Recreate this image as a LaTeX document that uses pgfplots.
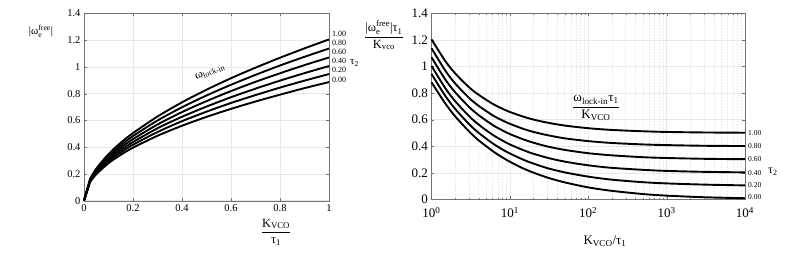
\documentclass[border=0pt]{standalone}
\usepackage{fontspec}
\setmainfont{Liberation Serif}
\usepackage{amsmath}
\usepackage{pgfplots}
\pgfplotsset{compat=1.18}
\pgfplotsset{
  base/.style={scale only axis, axis line style={black!55}, tick style={black!55},
    major tick length=3pt, minor tick length=1.8pt, tick align=inside,
    grid style={black!9, line width=0.5pt}, xmajorgrids, ymajorgrids,
    /pgf/number format/assume math mode=true, clip=false,
    ytick={0,0.2,0.4,0.6,0.8,1,1.2,1.4}, ymin=0, ymax=1.4},
  crv/.style={black, line width=1.9pt, smooth, line join=round},
  seg/.style={black, line width=1.9pt, line join=round},
}
\begin{document}
\begin{tikzpicture}[x=1pt,y=1pt]
\useasboundingbox (0,0) rectangle (789,257);
% ---------------- left axis
\begin{axis}[base, at={(84pt,56.3pt)}, anchor=south west, width=245pt, height=187.4pt,
  xmin=0, xmax=1, xtick={0,0.2,0.4,0.6,0.8,1},
  tick label style={font=\fontsize{10.5}{12}\selectfont}]
\addplot[seg] coordinates {(0,0) (0.025,0.164)};
\addplot[seg] coordinates {(0,0) (0.025,0.160)};
\addplot[seg] coordinates {(0,0) (0.025,0.155)};
\addplot[seg] coordinates {(0,0) (0.025,0.150)};
\addplot[seg] coordinates {(0,0) (0.025,0.145)};
\addplot[seg] coordinates {(0,0) (0.025,0.140)};
% tau2 = 1.00
\addplot[crv] coordinates {(0.025,0.164) (0.05,0.239) (0.1,0.348) (0.15,0.433) (0.2,0.505) (0.3,0.629) (0.4,0.735) (0.5,0.829) (0.6,0.915) (0.7,0.994) (0.8,1.068) (0.9,1.138) (1,1.205)};
% tau2 = 0.80
\addplot[crv] coordinates {(0.025,0.160) (0.05,0.231) (0.1,0.334) (0.15,0.414) (0.2,0.483) (0.3,0.599) (0.4,0.698) (0.5,0.786) (0.6,0.866) (0.7,0.940) (0.8,1.010) (0.9,1.075) (1,1.137)};
% tau2 = 0.60
\addplot[crv] coordinates {(0.025,0.155) (0.05,0.223) (0.1,0.320) (0.15,0.396) (0.2,0.460) (0.3,0.569) (0.4,0.662) (0.5,0.744) (0.6,0.819) (0.7,0.888) (0.8,0.952) (0.9,1.013) (1,1.070)};
% tau2 = 0.40
\addplot[crv] coordinates {(0.025,0.150) (0.05,0.214) (0.1,0.307) (0.15,0.378) (0.2,0.438) (0.3,0.541) (0.4,0.627) (0.5,0.703) (0.6,0.773) (0.7,0.837) (0.8,0.897) (0.9,0.953) (1,1.006)};
% tau2 = 0.20
\addplot[crv] coordinates {(0.025,0.145) (0.05,0.207) (0.1,0.294) (0.15,0.361) (0.2,0.418) (0.3,0.513) (0.4,0.594) (0.5,0.665) (0.6,0.730) (0.7,0.789) (0.8,0.845) (0.9,0.897) (1,0.946)};
% tau2 = 0.00
\addplot[crv] coordinates {(0.025,0.140) (0.05,0.198) (0.1,0.280) (0.15,0.343) (0.2,0.396) (0.3,0.485) (0.4,0.560) (0.5,0.626) (0.6,0.686) (0.7,0.741) (0.8,0.792) (0.9,0.841) (1,0.886)};
\end{axis}
% ---------------- right axis
\begin{axis}[base, at={(431.5pt,57.5pt)}, anchor=south west, width=313.5pt, height=186.2pt,
  xmode=log, xmin=1, xmax=10000, xminorgrids, minor grid style={black!7, densely dotted, line width=0.4pt},
  xtick={1,10,100,1000,10000},
  xticklabels={10\textsuperscript{0},10\textsuperscript{1},10\textsuperscript{2},10\textsuperscript{3},10\textsuperscript{4}},
  xticklabel style={yshift=-4pt},
  tick label style={font=\fontsize{13}{15}\selectfont}]
\addplot[crv] coordinates {(1,1.204) (1.5,1.041) (2,0.949) (3,0.845) (4,0.787) (6,0.720) (8,0.683) (10,0.658) (15,0.622) (20,0.601) (30,0.578) (50,0.556) (100,0.536) (200,0.523) (500,0.513) (1000,0.508) (3000,0.504) (10000,0.502)};
\addplot[crv] coordinates {(1,1.137) (1.5,0.969) (2,0.873) (3,0.765) (4,0.704) (6,0.634) (8,0.595) (10,0.569) (15,0.530) (20,0.508) (30,0.484) (50,0.460) (100,0.439) (200,0.425) (500,0.414) (1000,0.409) (3000,0.404) (10000,0.402)};
\addplot[crv] coordinates {(1,1.069) (1.5,0.902) (2,0.807) (3,0.697) (4,0.634) (6,0.561) (8,0.520) (10,0.492) (15,0.451) (20,0.427) (30,0.399) (50,0.373) (100,0.348) (200,0.332) (500,0.318) (1000,0.312) (3000,0.306) (10000,0.303)};
\addplot[crv] coordinates {(1,1.004) (1.5,0.837) (2,0.740) (3,0.628) (4,0.563) (6,0.487) (8,0.444) (10,0.414) (15,0.370) (20,0.344) (30,0.314) (50,0.285) (100,0.257) (200,0.238) (500,0.223) (1000,0.215) (3000,0.208) (10000,0.204)};
\addplot[crv] coordinates {(1,0.944) (1.5,0.779) (2,0.682) (3,0.568) (4,0.501) (6,0.423) (8,0.377) (10,0.346) (15,0.298) (20,0.270) (30,0.236) (50,0.204) (100,0.172) (200,0.149) (500,0.130) (1000,0.121) (3000,0.112) (10000,0.106)};
\addplot[crv] coordinates {(1,0.881) (1.5,0.722) (2,0.626) (3,0.513) (4,0.445) (6,0.365) (8,0.317) (10,0.284) (15,0.232) (20,0.202) (30,0.165) (50,0.129) (100,0.091) (200,0.065) (500,0.041) (1000,0.029) (3000,0.017) (10000,0.0095)};
\end{axis}
% ---------------- texts
\node at (41,226) {\fontsize{11}{12}\selectfont $\text{|ω}_{\text{e}}^{\text{free}}\text{|}$};
\node at (276,25) {\fontsize{12.5}{14}\selectfont $\dfrac{\text{K}_{\text{VCO}}}{\text{τ}_{\text{1}}}$};
\node[rotate=22] at (210,185) {\fontsize{12}{13}\selectfont $\text{ω}_{\text{lock-in}}$};
\begin{scope}[every node/.style={anchor=west, inner sep=0pt, font=\fontsize{8}{9}\selectfont}]
\node at (332,222.7) {1.00};
\node at (332,214.3) {0.80};
\node at (332,205.3) {0.60};
\node at (332,196) {0.40};
\node at (332,187) {0.20};
\node at (332,177) {0.00};
\end{scope}
\node[anchor=west, inner sep=0pt] at (350,194) {\fontsize{11}{12}\selectfont τ\textsubscript{2}};
\node at (384,222) {\fontsize{12.5}{14}\selectfont $\dfrac{\text{|ω}_{\text{e}}^{\text{free}}\text{|τ}_{\text{1}}}{\text{K}_{\text{vco}}}$};
\node at (605,16) {\fontsize{13}{15}\selectfont K\textsubscript{VCO}/τ\textsubscript{1}};
\node at (596,149) {\fontsize{13}{15}\selectfont $\dfrac{\text{ω}_{\text{lock-in}}\text{τ}_{\text{1}}}{\text{K}_{\text{VCO}}}$};
\begin{scope}[every node/.style={anchor=west, inner sep=0pt, font=\fontsize{7.5}{8}\selectfont}]
\node at (748,124.3) {1.00};
\node at (748,111.3) {0.80};
\node at (748,98) {0.60};
\node at (748,84.3) {0.40};
\node at (748,71.7) {0.20};
\node at (748,59.7) {0.00};
\end{scope}
\node[anchor=west, inner sep=0pt] at (768,85) {\fontsize{12}{13}\selectfont τ\textsubscript{2}};
\end{tikzpicture}
\end{document}
